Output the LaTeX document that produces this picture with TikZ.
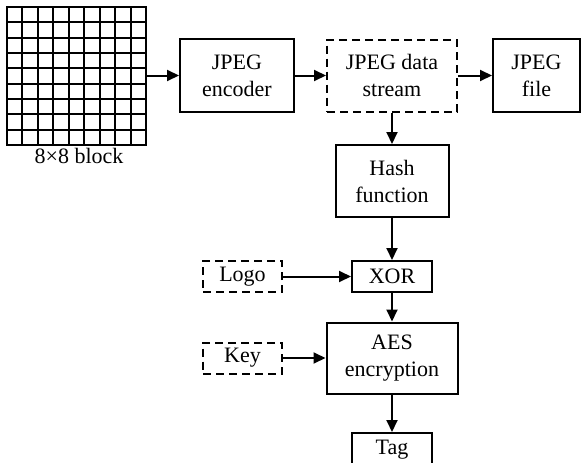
\documentclass[tikz,border=0pt]{standalone}
\usepackage{fontspec}
\setmainfont{Liberation Serif}
\usetikzlibrary{arrows.meta}
\begin{document}
\begin{tikzpicture}[x=1pt,y=-1pt,
  every node/.style={font=\fontsize{22}{27}\selectfont, align=center, inner sep=0pt},
  box/.style={draw, line width=2pt, minimum width=#1},
  dbox/.style={draw, line width=2pt, dash pattern=on 8pt off 5pt, minimum width=#1},
  arr/.style={line width=2pt, -{Triangle[length=12pt,width=11pt]}}
]
\clip (0,0) rectangle (582,463);
\fill[white] (0,0) rectangle (582,463);
% grid
\foreach \i in {0,...,9} {
  \draw[line width=2pt] ({7+\i*139/9},7) -- ({7+\i*139/9},145);
  \draw[line width=2pt] (7,{7+\i*138/9}) -- (146,{7+\i*138/9});
}
\draw[line width=2pt] (7,7) rectangle (146,145);
\coordinate (gridE) at (146,75.5);
\node (lbl) at (79,156) {8×8 block};
% boxes
\node[box=114pt, minimum height=73pt] (enc) at (237,75.5) {JPEG\\encoder};
\node[dbox=130pt, minimum height=72pt] (ds) at (392,75.5) {JPEG data\\stream};
\node[box=87pt, minimum height=73pt] (file) at (536.5,75.5) {JPEG\\file};
\node[box=113pt, minimum height=72pt] (hash) at (392,181) {Hash\\function};
\node[box=80pt, minimum height=31pt] (xor) at (392,276.5) {XOR};
\node[dbox=79pt, minimum height=31pt] (logo) at (242.5,276.5) {Logo};
\node[box=131pt, minimum height=71pt] (aes) at (392,358) {AES\\encryption};
\node[dbox=79pt, minimum height=31pt] (key) at (242.5,358) {Key};
\node[box=80pt, minimum height=34pt] (tag) at (392,450) {Tag};
% arrows
\draw[arr] (gridE) -- (enc.west);
\draw[arr] (enc.east) -- (ds.west);
\draw[arr] (ds.east) -- (file.west);
\draw[arr] (ds.south) -- (hash.north);
\draw[arr] (hash.south) -- (xor.north);
\draw[arr] (logo.east) -- (xor.west);
\draw[arr] (xor.south) -- (aes.north);
\draw[arr] (key.east) -- (aes.west);
\draw[arr] (aes.south) -- (tag.north);
\end{tikzpicture}
\end{document}
